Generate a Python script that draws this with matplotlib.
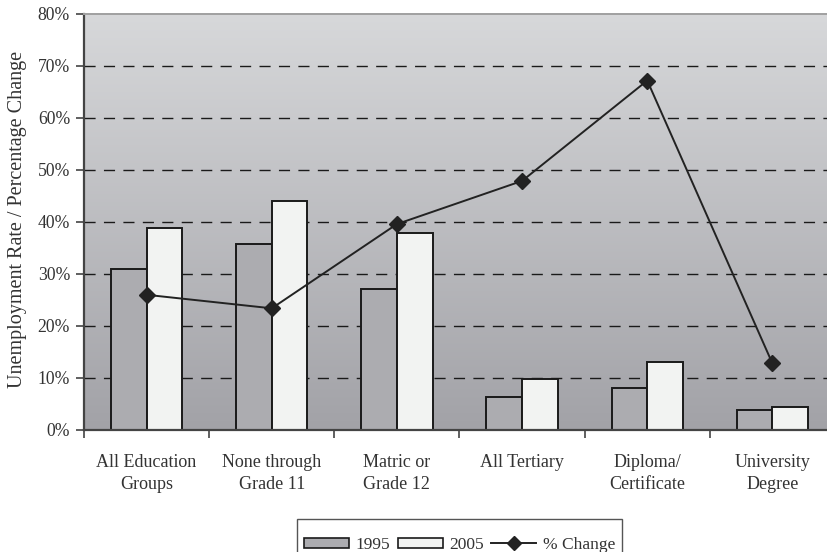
import numpy as np
import matplotlib
matplotlib.use("Agg")
import matplotlib.pyplot as plt
from matplotlib.lines import Line2D
from matplotlib.patches import Patch, Rectangle

plt.rcParams['font.family'] = ['Liberation Serif', 'DejaVu Serif']

# data
categories = ["All Education\nGroups", "None through\nGrade 11", "Matric or\nGrade 12",
              "All Tertiary", "Diploma/\nCertificate", "University\nDegree"]
rate_1995 = [30.9, 35.8, 27.1, 6.4, 8.0, 3.9]
rate_2005 = [38.9, 44.0, 37.9, 9.8, 13.1, 4.5]
pct_change = [26.0, 23.4, 39.6, 47.9, 67.2, 12.8]
yticks = [0, 10, 20, 30, 40, 50, 60, 70, 80]

W, H = 827, 552
fig = plt.figure(figsize=(W / 100, H / 100), dpi=100)
# plot area runs a little past the right edge of the picture, as in the original
left, right, top, bottom = 84, 835, 14, 430
ax = fig.add_axes([left / W, 1 - bottom / H, (right - left) / W, (bottom - top) / H])

x = np.arange(len(categories))
ax.set_xlim(-0.5, len(categories) - 0.5)
ax.set_ylim(0, 80)

# vertical gradient background
grad = np.linspace(0, 1, 256).reshape(-1, 1)
top_c = np.array([0.843, 0.847, 0.855])
bot_c = np.array([0.635, 0.635, 0.655])
img = top_c + (bot_c - top_c) * grad
ax.imshow(img[:, None, :].repeat(2, axis=1), extent=[0, 1, 0, 1], transform=ax.transAxes,
          aspect='auto', zorder=0, origin='upper')

for v in yticks[1:-1]:
    ax.axhline(v, color='#1a1a1a', lw=1.0, ls=(0, (8, 6)), zorder=1)

bw = 0.285
ax.bar(x - bw / 2, rate_1995, bw, color='#acacb0', edgecolor='#1a1a1a', lw=1.4, zorder=2)
ax.bar(x + bw / 2, rate_2005, bw, color='#f2f3f2', edgecolor='#1a1a1a', lw=1.4, zorder=2)
ax.plot(x, pct_change, color='#222222', lw=1.4, marker='D', ms=8, zorder=3)

ax.set_yticks(yticks)
ax.set_yticklabels([f"{v}%" for v in yticks], fontsize=12.7, color='#333333')
ax.set_xticks(x)
ax.set_xticklabels(categories, fontsize=13, color='#333333', linespacing=1.4)
ax.set_xticks(np.arange(len(categories) + 1) - 0.5, minor=True)
ax.tick_params(axis='x', which='major', length=0, pad=17)
ax.tick_params(axis='x', which='minor', length=6, width=1.2, color='#444444', direction='out')
ax.tick_params(axis='y', length=6, width=1.2, color='#444444', direction='out', pad=4)

ax.set_ylabel("Unemployment Rate / Percentage Change", fontsize=14.5, color='#333333')
ax.yaxis.set_label_coords(-0.0755, 0.505)

ax.spines['left'].set_color('#444444')
ax.spines['left'].set_linewidth(1.6)
ax.spines['bottom'].set_color('#444444')
ax.spines['bottom'].set_linewidth(1.6)
ax.spines['top'].set_color('#a0a0a0')
ax.spines['top'].set_linewidth(1.4)
ax.spines['right'].set_visible(False)

# legend box is cut by the bottom edge in the original, so draw the frame by hand
frame = Rectangle((297 / W, -20 / H), 325 / W, (33 + 20) / H, transform=fig.transFigure,
                  facecolor='white', edgecolor='#555555', lw=1.0, zorder=4)
fig.add_artist(frame)

handles = [Patch(facecolor='#acacb0', edgecolor='#1a1a1a', lw=1.2),
           Patch(facecolor='#f2f3f2', edgecolor='#1a1a1a', lw=1.2),
           Line2D([], [], color='#222222', lw=1.4, marker='D', ms=7)]
leg = fig.legend(handles, ["1995", "2005", "% Change"], loc='center',
                 bbox_to_anchor=(459.5 / W, 1 - 545 / H), ncol=3, fontsize=12.5,
                 frameon=False, handlelength=2.6, handleheight=0.55,
                 columnspacing=0.45, handletextpad=0.35, borderpad=0, borderaxespad=0)
leg.set_zorder(5)
for t in leg.get_texts():
    t.set_color('#333333')

fig.savefig("out.png", dpi=100)
